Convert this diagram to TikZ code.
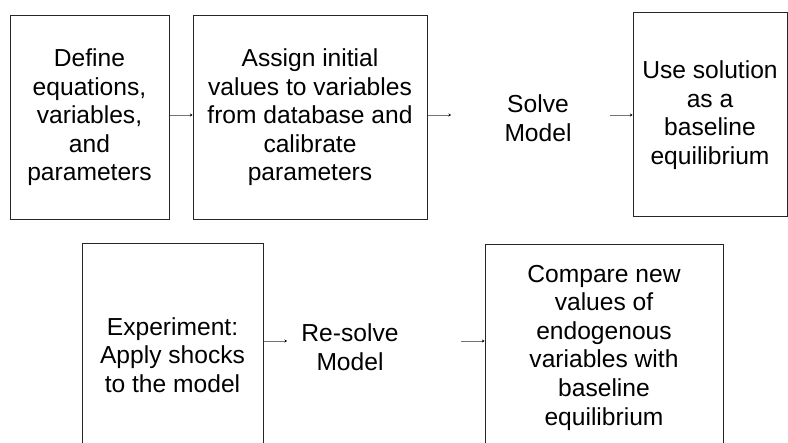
\documentclass[tikz,border=0pt]{standalone}
\usepackage{fontspec}
\setmainfont{Liberation Sans}
\usetikzlibrary{arrows.meta}
\begin{document}
\begin{tikzpicture}[x=1pt,y=-1pt,
  box/.style={draw=black!85,line width=1pt,rectangle,inner sep=0pt,align=center,
    font=\fontsize{24.6}{28.6}\selectfont},
  lbl/.style={inner sep=0pt,align=center,font=\fontsize{24.6}{29.5}\selectfont},
  conn/.style={draw=black!55,line width=0.7pt,-{Stealth[length=2.5pt,width=3pt,black]}}]
\useasboundingbox (0,0) rectangle (788,443);
\clip (0,0) rectangle (788,443);
\node[box,minimum width=159pt,minimum height=204pt] (b1) at (89.5,118) {\raisebox{-2pt}{\begin{tabular}{@{}c@{}}Define\\equations,\\variables,\\and\\parameters\end{tabular}}};
\node[box,minimum width=234pt,minimum height=204pt] (b2) at (310,118) {\raisebox{-2pt}{\begin{tabular}{@{}c@{}}Assign initial\\values to variables\\from database and\\calibrate\\parameters\end{tabular}}};
\node[lbl] (solve) at (538,118) {Solve\\Model};
\node[box,minimum width=154pt,minimum height=204pt] (b3) at (710,115) {Use solution\\as a\\baseline\\equilibrium};
\node[box,minimum width=181pt,minimum height=222pt] (b4) at (172.5,355) {Experiment:\\Apply shocks\\to the model};
\node[lbl] (resolve) at (350,347) {Re-solve\\Model};
\node[box,minimum width=238pt,minimum height=205pt] (b5) at (604,347.5) {Compare new\\values of\\endogenous\\variables with\\baseline\\equilibrium};
\coordinate (a2e) at (451,115);
\coordinate (a3s) at (610,115);
\coordinate (a4e) at (287,341);
\coordinate (a5s) at (461,341);
\draw[conn] (b1.east |- 0,115) -- (b2.west |- 0,115);
\draw[conn] (b2.east |- a2e) -- (a2e);
\draw[conn] (a3s) -- (b3.west |- a3s);
\draw[conn] (b4.east |- a4e) -- (a4e);
\draw[conn] (a5s) -- (b5.west |- a5s);
\end{tikzpicture}
\end{document}
